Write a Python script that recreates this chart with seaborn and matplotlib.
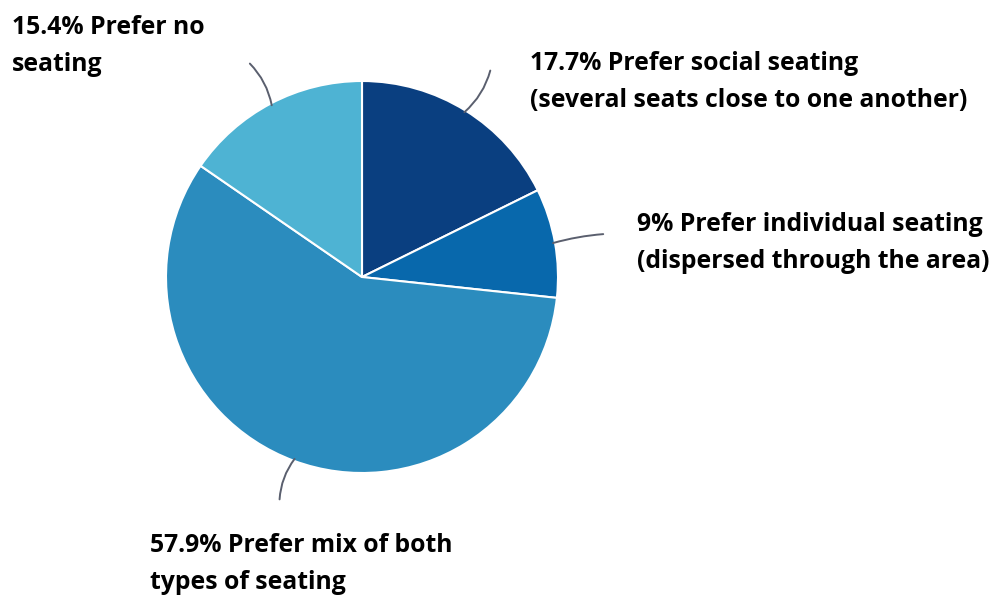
import numpy as np
import matplotlib
matplotlib.use("Agg")
import matplotlib.pyplot as plt
import seaborn as sns

# ---- data ----
categories = ["Prefer social seating\n(several seats close to one another)",
              "Prefer individual seating\n(dispersed through the area)",
              "Prefer mix of both\ntypes of seating",
              "Prefer no\nseating"]
pct_labels = ["17.7%", "9%", "57.9%", "15.4%"]
values = [17.7, 9.0, 57.9, 15.4]
colors = ["#0a3f80", "#0868ac", "#2b8cbe", "#4eb3d3"]

sns.set_theme(style="white")
plt.rcParams['font.family'] = ['Open Sans', 'DejaVu Sans']

W, H = 992, 595
fig = plt.figure(figsize=(W / 100, H / 100), dpi=100)
ax = fig.add_axes([0, 0, 1, 1])

# pie geometry in pixels
cx, cy, R = 362, 277, 196

wedges, _ = ax.pie(values, colors=colors, startangle=90, counterclock=False,
                   radius=1.0, center=(0, 0), frame=True,
                   wedgeprops=dict(edgecolor="white", linewidth=1.5))
ax.set_xlim(-cx / R, (W - cx) / R)
ax.set_ylim(-(H - cy) / R, cy / R)
ax.set_aspect("equal")
ax.axis("off")

# connectors and labels
label_pos = [(0.857, 0.995), (1.403, 0.175), (-1.082, -1.465), (-1.786, 1.18)]
conn_end_r = [1.24, 1.25, 1.21, 1.23]
conn_rad = [-0.15, 0.05, -0.15, -0.15]
for w, cat, pct, pos, er, rad in zip(wedges, categories, pct_labels, label_pos,
                                     conn_end_r, conn_rad):
    mid = np.deg2rad((w.theta1 + w.theta2) / 2)
    x0, y0 = np.cos(mid), np.sin(mid)
    ax.annotate("", xy=(x0 * 0.99, y0 * 0.99), xytext=(x0 * er, y0 * er),
                arrowprops=dict(arrowstyle="-", color="#5a5f6e", lw=1.4,
                                shrinkA=0, shrinkB=0,
                                connectionstyle=f"arc3,rad={rad}"))
    ax.text(pos[0], pos[1], f"{pct} {cat}", ha="left", va="center",
            fontsize=17.8, fontweight="bold", color="black", linespacing=1.65)

fig.savefig("out.png", dpi=100)
